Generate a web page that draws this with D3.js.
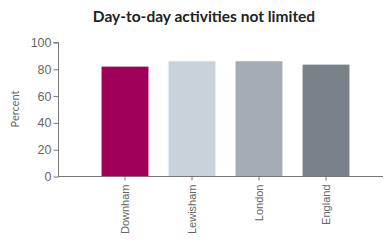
<!DOCTYPE html>
<html>
<head>
<meta charset="utf-8">
<script src="https://cdn.jsdelivr.net/npm/d3@7"></script>
<style>
  body { margin: 0; background: #fff; }
  svg { display: block; font-family: Lato, "Open Sans", sans-serif; }
  .axis text { fill: #666; }
  .axis line, .axis path { stroke: #777; }
</style>
</head>
<body>
<svg id="chart" width="386" height="242"></svg>
<script>
// data
var areas = ["Downham", "Lewisham", "London", "England"];
var percents = [82, 86, 86, 83.5];
var barColors = ["#a0005a", "#c9d1d9", "#a5abb2", "#7a8189"];
var yTicks = [0, 20, 40, 60, 80, 100];

var svg = d3.select("#chart");

var x = d3.scaleBand()
  .domain(areas)
  .range([58, 393])
  .paddingInner(0.3)
  .paddingOuter(0.65);

var y = d3.scaleLinear()
  .domain([0, 100])
  .range([176.5, 42.5]);

// title
svg.append("text")
  .attr("x", 204)
  .attr("y", 22)
  .attr("text-anchor", "middle")
  .attr("font-size", 15.5)
  .attr("font-weight", "bold")
  .attr("fill", "#222")
  .text("Day-to-day activities not limited");

// bars
svg.append("g").selectAll("rect")
  .data(areas)
  .enter()
  .append("rect")
  .attr("x", d => x(d))
  .attr("width", x.bandwidth())
  .attr("y", (d, i) => y(percents[i]))
  .attr("height", (d, i) => y(0) - y(percents[i]))
  .attr("fill", (d, i) => barColors[i]);

// y axis
var yAxis = svg.append("g")
  .attr("class", "axis")
  .attr("transform", "translate(58.5,0)")
  .call(d3.axisLeft(y).tickValues(yTicks).tickSize(5).tickPadding(2));
yAxis.selectAll("text").attr("font-size", 12.5);
yAxis.select(".domain").attr("d", "M-5," + y(100) + "H0V" + y(0));

// x axis
var xAxis = svg.append("g")
  .attr("class", "axis")
  .attr("transform", "translate(0," + y(0) + ")")
  .call(d3.axisBottom(x).tickSize(4).tickSizeOuter(0));
xAxis.select(".domain").attr("d", "M58," + 0 + "H383");
xAxis.selectAll("text")
  .attr("font-size", 11)
  .attr("transform", "rotate(-90)")
  .attr("text-anchor", "end")
  .attr("x", -8)
  .attr("y", 0)
  .attr("dy", "0.35em");

// y label
svg.append("text")
  .attr("transform", "translate(19,109) rotate(-90)")
  .attr("text-anchor", "middle")
  .attr("font-size", 11)
  .attr("fill", "#666")
  .text("Percent");
</script>
</body>
</html>
